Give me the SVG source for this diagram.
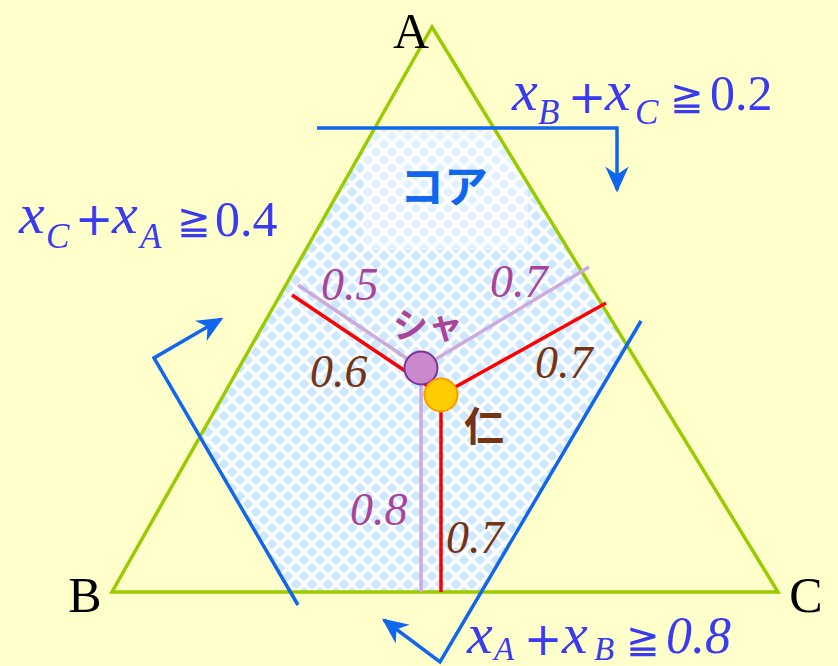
<svg xmlns="http://www.w3.org/2000/svg" width="838" height="666" viewBox="0 0 838 666">
<defs>
<pattern id="dia" width="16" height="16" patternUnits="userSpaceOnUse">
<rect width="16" height="16" fill="#ffffff"/>
<polygon points="8,2.5 13.5,8 8,13.5 2.5,8" fill="#cce8ff"/>
<polygon points="0,-5.5 5.5,0 0,5.5 -5.5,0" fill="#cce8ff"/>
<polygon points="16,-5.5 21.5,0 16,5.5 10.5,0" fill="#cce8ff"/>
<polygon points="0,10.5 5.5,16 0,21.5 -5.5,16" fill="#cce8ff"/>
<polygon points="16,10.5 21.5,16 16,21.5 10.5,16" fill="#cce8ff"/>
</pattern>
<clipPath id="coreclip">
<polygon points="374.3,128 494.4,128 627,345 481,592 291,592 200,437"/>
</clipPath>
<marker id="ah" viewBox="0 0 20 20" refX="18" refY="10" markerWidth="26" markerHeight="26" markerUnits="userSpaceOnUse" orient="auto">
<path d="M0,1 L20,10 L0,19 L6,10 Z" fill="#1166ee"/>
</marker>
<style>
.blue{fill:none;stroke:#1166ee;stroke-width:3.5}
.num{font-family:"Liberation Serif",serif;font-style:italic;font-size:46px}
.pur{fill:#aa4499}
.brn{fill:#773311}
.math{font-family:"Liberation Serif","DejaVu Serif",serif;fill:#3a3af0}
.mi{font-style:italic}
.vx{font-style:italic;font-size:58px}
.sub{font-style:italic;font-size:35px}
.sb{font-style:italic;font-size:33px}
.pl{font-size:46px;font-family:"DejaVu Sans",sans-serif;text-anchor:middle}
.ge{font-size:40px;font-family:"DejaVu Serif",serif}
.vl{font-family:"Liberation Serif",serif;font-size:50px;fill:#000}
.jp{font-family:"Noto Sans CJK JP",sans-serif;font-weight:bold}
</style>
</defs>
<rect width="838" height="666" fill="#ffffcc"/>
<g id="core">
<polygon points="374.3,128 494.4,128 627,345 481,592 291,592 200,437" fill="url(#dia)"/>
<rect x="363" y="120" width="165" height="130" fill="#ffffff" opacity="0.45" clip-path="url(#coreclip)"/>
<text x="444" y="203" class="jp" font-size="44" fill="#1166ee" text-anchor="middle">コア</text>
</g>
<g id="triangle">
<polygon points="432,27 112,592 778,592" fill="none" stroke="#99cc00" stroke-width="3.5" stroke-linejoin="miter"/>
<text x="411" y="48" class="vl" text-anchor="middle">A</text>
<text x="85" y="612" class="vl" text-anchor="middle">B</text>
<text x="806" y="612" class="vl" text-anchor="middle">C</text>
</g>
<g id="connectors">
<polyline class="blue" points="317,128 617,128 617,190" marker-end="url(#ah)"/>
<polyline class="blue" points="298,605 154,358 221,319" marker-end="url(#ah)"/>
<polyline class="blue" points="641,321 440,662 384,620" marker-end="url(#ah)"/>
<g stroke="#ccaadd" stroke-width="3.5" fill="none">
<line x1="421" y1="368" x2="298" y2="285"/>
<line x1="421" y1="368" x2="589" y2="267"/>
<line x1="421" y1="368" x2="421" y2="592"/>
</g>
<g stroke="#ff0000" stroke-width="3.5" fill="none">
<line x1="441" y1="395" x2="292" y2="295"/>
<line x1="441" y1="395" x2="606" y2="303"/>
<line x1="441" y1="395" x2="441" y2="592"/>
</g>
</g>
<g id="sha">
<circle cx="421" cy="368" r="16.5" fill="#cc88cc" stroke="#773399" stroke-width="2"/>
<text x="428" y="338" class="jp pur" font-size="35" text-anchor="middle">シャ</text>
</g>
<g id="jin">
<circle cx="441" cy="395" r="16.5" fill="#ffcc00" stroke="#ff9900" stroke-width="2"/>
<text x="484" y="441" class="jp brn" font-size="40" text-anchor="middle">仁</text>
</g>
<g id="labels">
<text x="321" y="300" class="num pur">0.5</text>
<text x="490" y="297" class="num pur">0.7</text>
<text x="310" y="387" class="num brn">0.6</text>
<text x="535" y="378" class="num brn">0.7</text>
<text x="350" y="525" class="num pur">0.8</text>
<text x="446" y="553" class="num brn">0.7</text>
</g>
<g id="eqBC" class="math">
<text x="512" y="110" class="vx">x</text>
<text x="538" y="124" class="sub">B</text>
<text x="587" y="113" class="pl">+</text>
<text x="605" y="110" class="vx">x</text>
<text x="635" y="124" class="sub">C</text>
<text x="670" y="110" class="ge">≧</text>
<text x="710" y="110" font-size="50">0.2</text>
</g>
<g id="eqCA" class="math">
<text x="19" y="233" class="vx">x</text>
<text x="46" y="248" class="sub">C</text>
<text x="94" y="235" class="pl">+</text>
<text x="112" y="233" class="vx">x</text>
<text x="140" y="248" class="sub">A</text>
<text x="177" y="234" class="ge">≧</text>
<text x="215" y="236" font-size="50">0.4</text>
</g>
<g id="eqAB" class="math">
<text x="467" y="653" class="vx">x</text>
<text x="494" y="660" class="sb">A</text>
<text x="543" y="655" class="pl">+</text>
<text x="562" y="653" class="vx">x</text>
<text x="594" y="660" class="sb">B</text>
<text x="626" y="653" class="ge">≧</text>
<text x="666" y="653" font-size="52" class="mi">0.8</text>
</g>
</svg>
